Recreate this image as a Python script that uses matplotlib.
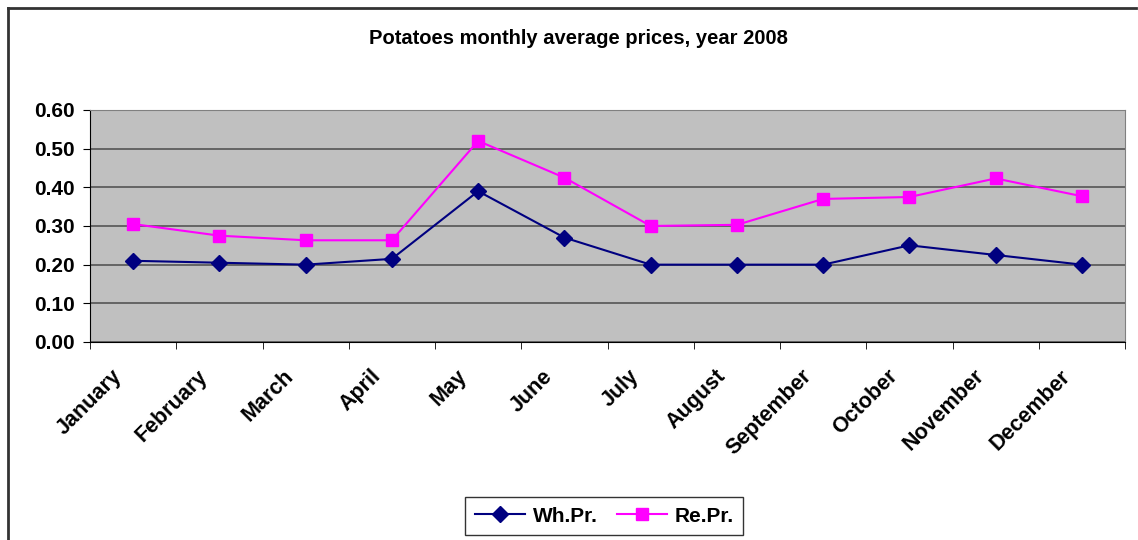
import numpy as np
import matplotlib.pyplot as plt
from matplotlib.lines import Line2D
from matplotlib.transforms import ScaledTranslation

months = ['January', 'February', 'March', 'April', 'May', 'June', 'July',
          'August', 'September', 'October', 'November', 'December']
wh_pr = [0.21, 0.205, 0.20, 0.215, 0.39, 0.27, 0.20, 0.20, 0.20, 0.25, 0.225, 0.20]
re_pr = [0.305, 0.275, 0.263, 0.263, 0.52, 0.425, 0.30, 0.303, 0.37, 0.375, 0.423, 0.377]
yticks = [0.0, 0.1, 0.2, 0.3, 0.4, 0.5, 0.6]

plt.rcParams['font.family'] = ['Liberation Sans', 'DejaVu Sans']
plt.rcParams['font.weight'] = 'bold'

fig = plt.figure(figsize=(11.38, 5.4), dpi=100)
ax = fig.add_axes([0.0791, 0.3667, 0.9095, 0.4296])
ax.set_facecolor('#C0C0C0')

x = np.arange(len(months))
ax.plot(x, wh_pr, color='#000080', lw=1.5, marker='D', markersize=8,
        label='Wh.Pr.')
ax.plot(x, re_pr, color='#FF00FF', lw=1.5, marker='s', markersize=9,
        label='Re.Pr.')

ax.set_xlim(-0.5, len(months) - 0.5)
ax.set_ylim(0, 0.6)
ax.set_yticks(yticks)
ax.set_yticklabels(['%.2f' % v for v in yticks], fontsize=15, fontweight='bold')
ax.yaxis.grid(True, color='#555555', lw=1.2)
ax.set_axisbelow(True)

# category labels in the middle, tick marks between categories
ax.set_xticks(x)
ax.set_xticklabels(months, rotation=45, ha='right', rotation_mode='anchor',
                   fontsize=15.5, fontweight='bold')
ax.tick_params(axis='x', which='major', length=0, pad=12)
shift = ScaledTranslation(-0.22, -0.07, fig.dpi_scale_trans)
for lab in ax.get_xticklabels():
    lab.set_transform(lab.get_transform() + shift)
ax.set_xticks(np.arange(-0.5, len(months), 1), minor=True)
ax.tick_params(axis='x', which='minor', length=5, color='black', direction='out')
ax.tick_params(axis='y', length=5, color='black', direction='out', pad=6)

for s in ['top', 'right']:
    ax.spines[s].set_color('#808080')
for s in ['left', 'bottom']:
    ax.spines[s].set_color('black')

fig.text(0.508, 0.928, 'Potatoes monthly average prices, year 2008',
         ha='center', va='center', fontsize=14.5, fontweight='bold')

leg = fig.legend(loc='center', bbox_to_anchor=(0.531, 0.044), ncol=2,
                 fontsize=15, frameon=True, fancybox=False, edgecolor='black',
                 handlelength=2.4, columnspacing=0.9, handletextpad=0.4,
                 borderpad=0.45)
leg.get_frame().set_linewidth(1.0)

# outer chart frame: only top and left edges are visible
fig.add_artist(Line2D([0.007, 0.998], [0.985, 0.985], transform=fig.transFigure,
                      color='#333333', lw=2))
fig.add_artist(Line2D([0.007, 0.007], [0.0, 0.985], transform=fig.transFigure,
                      color='#333333', lw=2))

fig.savefig('out.png', dpi=100)
